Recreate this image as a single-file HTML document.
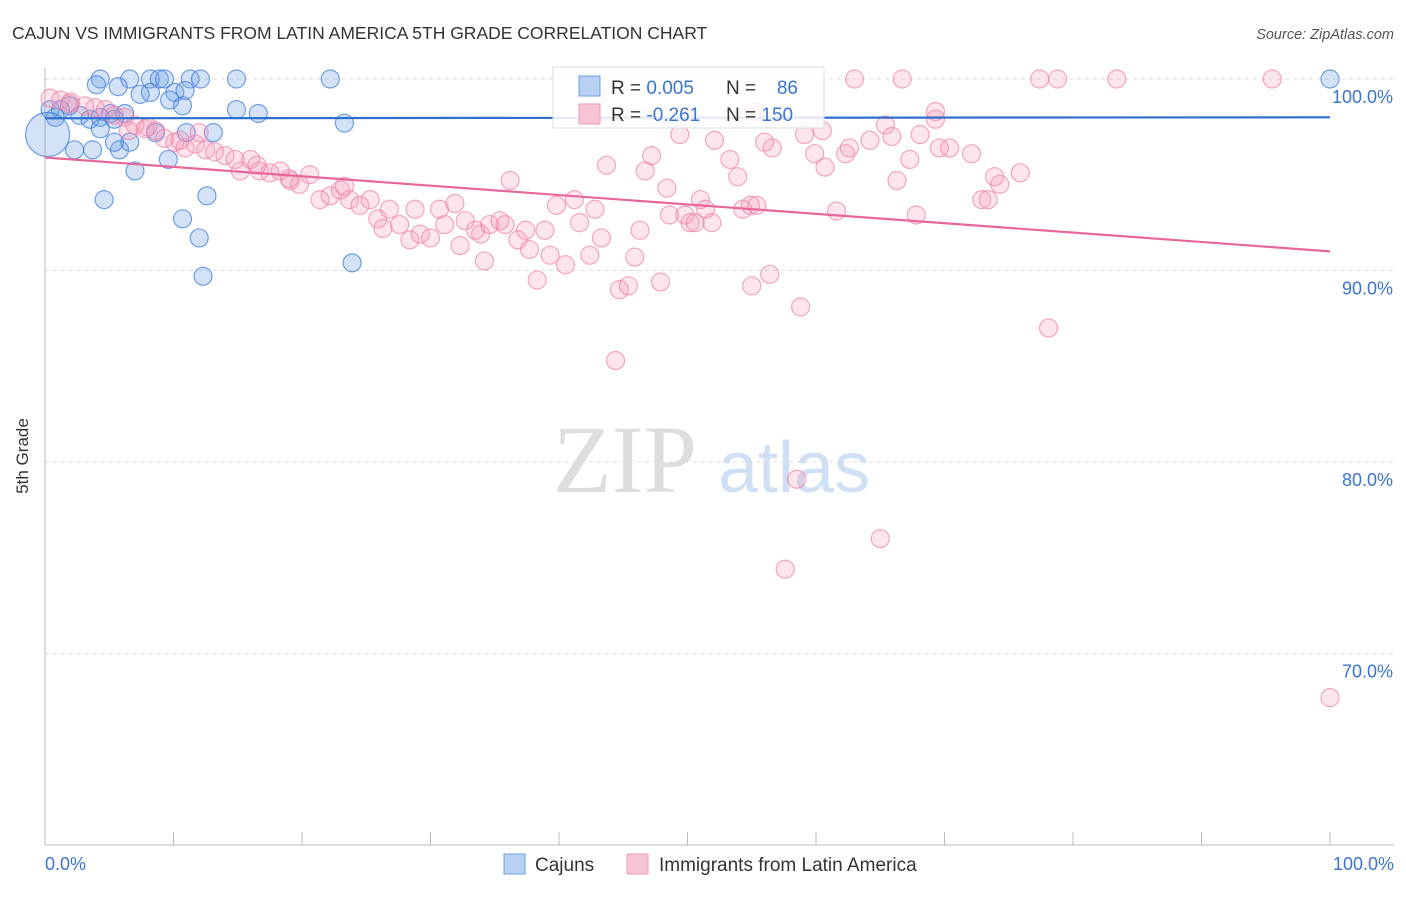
<!DOCTYPE html>
<html><head><meta charset="utf-8"><style>
body{margin:0;background:#fff;font-family:"Liberation Sans",sans-serif}
</style></head><body>
<svg id="chart" width="1406" height="892" xmlns="http://www.w3.org/2000/svg">
<text x="12" y="39" font-size="17.5" fill="#333">CAJUN VS IMMIGRANTS FROM LATIN AMERICA 5TH GRADE CORRELATION CHART</text>
<text x="1394" y="39" font-size="14.5" fill="#555" font-style="italic" text-anchor="end">Source: ZipAtlas.com</text>
<g>
<text x="553" y="492" font-size="96" font-family="Liberation Serif,serif" fill="#ddd">ZIP</text>
<text x="718" y="492" font-size="72" fill="#cfe0f5">atlas</text>
</g>
<g id="grid"></g>
<g id="axes"></g>
<g id="pts"></g>
<g id="trend"></g>
<text x="28" y="456" font-size="17" fill="#333" transform="rotate(-90 28 456)" text-anchor="middle">5th Grade</text>
<g>
<rect x="553" y="67" width="271" height="61" fill="#fff" fill-opacity="0.85" stroke="#ddd"/>
<rect x="579" y="76" width="21" height="20" fill="#b7d0f3" stroke="#6f9fe0"/>
<rect x="579" y="104" width="21" height="20" fill="#f8c4d4" stroke="#f09ab8"/>
<text x="611" y="94" font-size="19" fill="#333">R = <tspan fill="#3a74d0">0.005</tspan></text>
<text x="726" y="94" font-size="19" fill="#333">N = </text><text x="798" y="94" font-size="19" fill="#3a74d0" text-anchor="end">86</text>
<text x="611" y="121" font-size="19" fill="#333">R = <tspan fill="#3a74d0">-0.261</tspan></text>
<text x="726" y="121" font-size="19" fill="#333">N = <tspan fill="#3a74d0">150</tspan></text>
</g>
<g>
<rect x="504" y="854" width="21" height="20" fill="#b7d0f3" stroke="#6f9fe0"/>
<text x="535" y="871" font-size="19" fill="#333">Cajuns</text>
<rect x="627" y="854" width="21" height="20" fill="#f8c4d4" stroke="#f09ab8"/>
<text x="659" y="871" font-size="19" fill="#333">Immigrants from Latin America</text>
</g>
</svg>
<script>
const yTicks=[100,90,80,70];
const yTickLabels=["100.0%","90.0%","80.0%","70.0%"];
const xTickLabels=["0.0%","100.0%"];
const blueX=[4.3,6.6,8.2,8.9,9.3,11.3,12.1,14.9,22.2,100,4.0,5.7,8.2,7.4,10.1,10.9,9.7,10.7,14.9,16.6,23.3,6.2,5.1,1.2,1.9,2.7,3.5,4.3,5.4,0.4,0.8,2.3,3.7,5.8,6.6,5.4,4.3,11.0,13.1,8.6,9.6,7.0,4.6,10.7,12.6,12.0,23.9,12.3,0.2];
const blueY=[100,100,100,100,100,100,100,100,100,100,99.7,99.6,99.3,99.2,99.3,99.4,98.9,98.6,98.4,98.2,97.7,98.2,98.2,98.4,98.6,98.1,97.9,98.0,97.9,98.4,98.0,96.3,96.3,96.3,96.7,96.7,97.4,97.2,97.2,97.2,95.8,95.2,93.7,92.7,93.9,91.7,90.4,89.7,97.1];
const pinkX=[0.4,1.2,1.9,3.1,3.9,4.7,5.4,6.2,7.0,7.8,8.6,9.3,10.1,10.9,11.7,12.5,13.2,14.0,14.8,15.2,16.0,16.7,17.5,18.3,19.1,19.8,20.6,21.4,22.2,23.0,23.3,23.7,24.5,25.3,25.9,26.3,26.8,27.6,28.4,28.8,29.2,30.0,30.7,31.1,31.9,32.3,32.7,33.5,33.9,34.2,34.6,35.4,35.8,36.2,36.8,37.4,37.7,38.3,38.9,39.3,39.8,40.5,41.2,41.6,42.4,42.8,43.3,43.7,44.7,45.4,45.9,46.3,46.7,47.2,47.9,48.4,48.6,49.4,49.8,50.2,50.6,51.0,51.4,51.9,52.1,53.3,53.9,54.3,54.9,55.0,55.3,55.4,56.0,56.4,56.6,57.6,58.5,58.8,59.1,59.9,60.5,60.7,61.6,62.3,62.6,63.0,64.2,65.4,65.9,66.3,66.7,67.3,67.8,68.1,69.3,69.6,70.4,72.1,72.9,73.4,73.9,74.3,75.9,77.4,78.1,78.8,83.4,95.5,100,65.0,44.4,69.3,2.0,6.5,8.0,10.5,12.0,16.5,19.0];
const pinkY=[99.0,98.9,98.7,98.6,98.5,98.4,98.1,98.0,97.6,97.4,97.3,96.9,96.7,96.4,96.6,96.3,96.2,96.0,95.8,95.2,95.8,95.2,95.1,95.2,94.7,94.5,95.0,93.7,93.9,94.2,94.4,93.7,93.4,93.7,92.7,92.2,93.2,92.4,91.6,93.2,91.9,91.7,93.2,92.4,93.5,91.3,92.6,92.1,91.9,90.5,92.4,92.6,92.4,94.7,91.6,92.1,91.1,89.5,92.1,90.8,93.4,90.3,93.7,92.5,90.8,93.2,91.7,95.5,89.0,89.2,90.7,92.1,95.2,96.0,89.4,94.3,92.9,97.1,92.9,92.5,92.5,93.7,93.2,92.5,96.8,95.8,94.9,93.2,93.4,89.2,98.3,93.4,96.7,89.8,96.4,74.4,79.1,88.1,97.1,96.1,97.3,95.4,93.1,96.1,96.4,100,96.8,97.6,97.0,94.7,100,95.8,92.9,97.1,97.9,96.4,96.4,96.1,93.7,93.7,94.9,94.5,95.1,100,87.0,100,100,100,67.7,76.0,85.3,98.3,98.8,97.3,97.5,96.8,97.2,95.5,94.8];
const blueTrend=[97.95,98.0];
const pinkTrend=[95.9,91.0];
const NS='http://www.w3.org/2000/svg';
const X0=45,X1=1330,Y100=79,PX=19.15;
const sx=v=>X0+(X1-X0)*v/100;
const sy=v=>Y100+(100-v)*PX;
function mk(tag,attrs,parent){const e=document.createElementNS(NS,tag);for(const k in attrs)e.setAttribute(k,attrs[k]);parent.appendChild(e);return e;}
const grid=document.getElementById('grid'),axes=document.getElementById('axes'),pts=document.getElementById('pts'),trend=document.getElementById('trend');
yTicks.forEach((t,i)=>{
 const l=mk('line',{x1:X0,x2:1394,y1:sy(t),y2:sy(t),stroke:'#ddd','stroke-dasharray':'4,4'},grid);
 
 
 const tx=mk('text',{x:1393,y:sy(t)+24,'font-size':18,fill:'#3a74d0','text-anchor':'end'},axes);
 tx.textContent=yTickLabels[i];
 
 
});
mk('line',{x1:X0,x2:X0,y1:68,y2:845,stroke:'#bbb'},axes);
mk('line',{x1:X0,x2:1394,y1:845,y2:845,stroke:'#bbb'},axes);
for(let i=0;i<=10;i++){const x=sx(i*10);const t=mk('line',{x1:x,x2:x,y1:832,y2:845,stroke:'#bbb'},axes);
 
 }
[[0,'start',45],[100,'end',1394]].forEach((d,i)=>{const t=mk('text',{x:d[2],y:870,'font-size':18,fill:'#3a74d0','text-anchor':d[1]},axes);t.textContent=xTickLabels[i];
 
 });
blueX.forEach((x,i)=>{const c=mk('circle',{cx:sx(x),cy:sy(blueY[i]),r:(i==blueX.length-1?22:9),fill:'rgba(110,160,230,0.3)',stroke:'rgba(70,130,220,0.75)','stroke-width':1.2},pts);
 
 });
pinkX.forEach((x,i)=>{const c=mk('circle',{cx:sx(x),cy:sy(pinkY[i]),r:9,fill:'rgba(245,150,180,0.25)',stroke:'rgba(240,130,170,0.7)','stroke-width':1.2},pts);
 
 });
const bl=mk('line',{x1:sx(0),x2:sx(100),y1:sy(blueTrend[0]),y2:sy(blueTrend[1]),stroke:'#2f6fd0','stroke-width':2.2},trend);


const pl=mk('line',{x1:sx(0),x2:sx(100),y1:sy(pinkTrend[0]),y2:sy(pinkTrend[1]),stroke:'#e8679a','stroke-width':2.2},trend);


</script>
</body></html>
